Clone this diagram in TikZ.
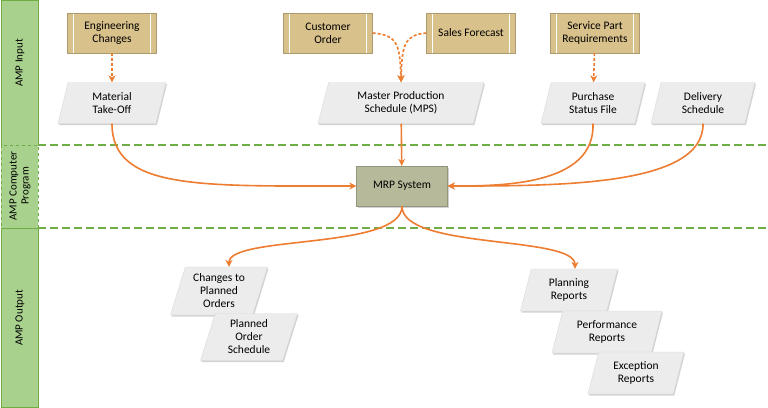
\documentclass[tikz,border=0pt]{standalone}
\usepackage{fontspec}
\setmainfont{Carlito}
\usetikzlibrary{shapes.geometric,arrows.meta,shadows}
\definecolor{lanegreen}{RGB}{169,209,142}
\definecolor{linegreen}{RGB}{112,173,71}
\definecolor{tanfill}{RGB}{217,193,140}
\definecolor{mrpfill}{RGB}{183,186,154}
\definecolor{flow}{RGB}{237,125,49}
\tikzset{
  lane/.style={fill=lanegreen,draw=linegreen,line width=0.6pt},
  lanetext/.style={rotate=90,align=center,font=\fontsize{11}{12}\selectfont},
  source/.style={rectangle,fill=tanfill,draw=tanfill!80!black,line width=0.3pt,minimum width=89pt,minimum height=40pt,align=center,
    path picture={\draw[white,line width=0.5pt] ([xshift=6pt]path picture bounding box.north west) -- ([xshift=6pt]path picture bounding box.south west);
      \draw[white,line width=0.5pt] ([xshift=-6pt]path picture bounding box.north east) -- ([xshift=-6pt]path picture bounding box.south east);}},
  data/.style={trapezium,trapezium left angle=70,trapezium right angle=110,trapezium stretches body,fill=gray!15,draw=gray!30,
    minimum height=41pt,align=center,drop shadow={shadow xshift=1pt,shadow yshift=-1.5pt,opacity=.35}},
  mrp/.style={rectangle,fill=mrpfill,draw=mrpfill!80!black,minimum width=91pt,minimum height=40pt,drop shadow={shadow xshift=1pt,shadow yshift=-1.5pt,opacity=.35}},
  flowline/.style={draw=flow,line width=1.6pt,-{Stealth[length=7pt,width=7pt]}},
  feed/.style={flowline,dash pattern=on 3pt off 2pt}
}
\begin{document}
\begin{tikzpicture}[x=1pt,y=-1pt,font=\fontsize{11.5}{13}\selectfont]
\useasboundingbox (0,0) rectangle (768,407);
% swim lanes
\fill[white] (0,0) rectangle (768,407);
\draw[lane] (1,0) rectangle (38,145);
\draw[lane,dashed] (1,145) rectangle (38,228);
\draw[lane] (1,228) rectangle (38,407);
\draw[linegreen,line width=1.2pt,dash pattern=on 8pt off 4pt] (38,145) -- (768,145);
\draw[linegreen,line width=1.2pt,dash pattern=on 8pt off 4pt] (38,228) -- (768,228);
\node[lanetext] (laneIn) at (20,63) {AMP Input};
\node[lanetext] (laneProg) at (20,186) {AMP Computer\\Program};
\node[lanetext] (laneOut) at (20,318) {AMP Output};
% inputs
\node[source] (engch) at (112,33) {Engineering\\Changes};
\node[source] (custord) at (328,33) {Customer\\Order};
\node[source] (sales) at (471,33) {Sales Forecast};
\node[source] (service) at (595,33) {Service Part\\Requirements};
\node[data,minimum width=108pt] (mto) at (112,103) {Material\\Take-Off};
\node[data,minimum width=166pt] (mps) at (401,103) {Master Production\\Schedule (MPS)};
\node[data,minimum width=104pt] (purch) at (593,103) {Purchase\\Status File};
\node[data,minimum width=104pt] (deliv) at (703,103) {Delivery\\Schedule};
% program
\node[mrp] (mrpsys) at (402,186) {MRP System};
% outputs
\node[data,minimum width=97pt,minimum height=48pt] (chg) at (219,291) {Changes to\\Planned\\Orders};
\node[data,minimum width=97pt,minimum height=47pt] (pos) at (249,337) {Planned\\Order\\Schedule};
\node[data,minimum width=97pt,minimum height=42pt] (plan) at (569,290) {Planning\\Reports};
\node[data,minimum width=110pt,minimum height=42pt] (perf) at (607,332) {Performance\\Reports};
\node[data,minimum width=96pt,minimum height=42pt] (excp) at (636,373) {Exception\\Reports};
% connectors
\draw[feed] (engch) -- (mto);
\draw[feed] (service) -- (purch);
\draw[feed] (custord.east) .. controls (398,35) and (400,45) .. (mps.north);
\draw[feed] (sales.west) .. controls (404,35) and (402,45) .. (mps.north);
\draw[flowline] (mps) -- (mrpsys);
\draw[flowline] (mto.south) .. controls (112,190) and (200,186) .. (mrpsys.west);
\draw[flowline] (purch.south) .. controls (595,186) and (500,186) .. (mrpsys.east);
\draw[flowline] (deliv.south) .. controls (704,186) and (560,186) .. (mrpsys.east);
\draw[flowline] (mrpsys.south) .. controls (402,250) and (229,235) .. ([xshift=10pt]chg.north);
\draw[flowline] (mrpsys.south) .. controls (402,250) and (575,235) .. ([xshift=6pt]plan.north);
\end{tikzpicture}
\end{document}
